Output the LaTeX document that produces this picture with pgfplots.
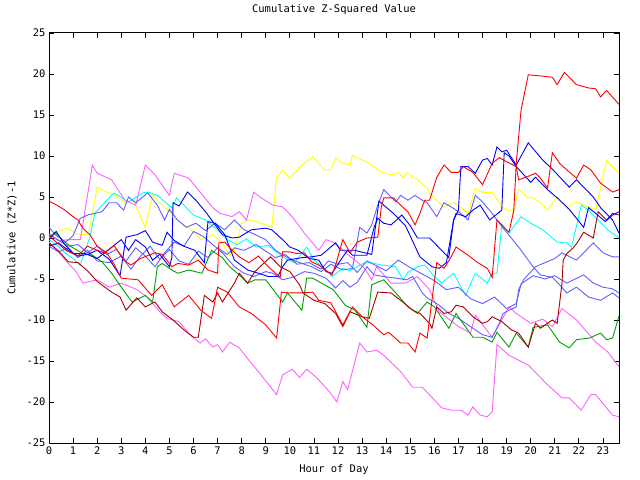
\documentclass[border=0pt]{standalone}
\usepackage{pgfplots}
\pgfplotsset{compat=1.18}
\usepackage{fontspec}
\setmainfont{DejaVu Sans Mono}
\definecolor{gred}{RGB}{255,0,0}
\definecolor{gdred}{RGB}{170,0,0}
\definecolor{gblue}{RGB}{0,0,255}
\definecolor{gslate}{RGB}{96,96,255}
\definecolor{gyel}{RGB}{255,255,0}
\definecolor{gcyan}{RGB}{0,255,255}
\definecolor{gmag}{RGB}{255,96,255}
\definecolor{ggreen}{RGB}{0,160,0}
\begin{document}
\begin{tikzpicture}
\begin{axis}[
  scale only axis, width=570bp, height=410bp,
  xmin=0, xmax=23.667, ymin=-25, ymax=25,
  xtick={0,1,...,23}, ytick={-25,-20,...,25},
  tick align=inside, major tick length=5bp,
  xtick pos=both, ytick pos=both,
  axis line style={line width=1bp},
  every tick/.style={black, line width=0.8bp},
  /pgf/number format/assume math mode=true,
  tick label style={font=\fontsize{10.5}{12}\selectfont},
  label style={font=\fontsize{10.5}{12}\selectfont},
  title style={font=\fontsize{10.5}{12}\selectfont, at={(axis description cs:0.5,1.0415)}, anchor=center},
  title={Cumulative Z-Squared Value},
  xlabel={Hour of Day},
  ylabel={Cumulative (Z*Z)-1},
  xlabel style={at={(axis description cs:0.5,-0.0659)}, anchor=center},
  ylabel style={at={(axis description cs:-0.0649,0.5)}, anchor=center},
  every axis plot/.append style={line width=0.9bp, mark=none},
  clip=true,
]
% yellow
\addplot[gyel] coordinates {(0,0) (0.4,0.8) (0.75,1.2) (1.1,0.6) (1.4,0.4) (1.65,0.5) (2.0,6.2) (2.4,5.6) (2.75,5.2) (3.15,4.3) (3.5,4.6) (4.0,1.3) (4.3,5.2) (4.7,4.0) (5.1,3.0) (5.5,1.8) (5.9,1.0) (6.3,-0.2) (6.8,0.4) (7.2,-0.6) (7.5,-2.1) (7.7,-1.5) (8.0,1.8) (8.3,2.2) (8.6,2.0) (9.0,1.6) (9.25,1.3) (9.45,7.3) (9.7,8.3) (10.0,7.3) (10.5,8.9) (10.95,9.9) (11.45,8.3) (11.7,8.3) (11.9,9.8) (12.2,9.1) (12.5,8.9) (12.6,10.1) (13.0,9.5) (13.2,9.3) (13.8,8.0) (14.2,7.7) (14.5,8.0) (14.7,7.4) (14.9,7.9) (15.3,7.1) (15.7,6.1) (15.8,5.5) (16.1,4.6) (16.4,3.8) (16.8,4.3) (17.0,4.0) (17.4,3.0) (17.7,6.1) (18.0,5.5) (18.4,5.6) (18.8,3.8) (19.0,3.4) (19.3,3.4) (19.5,5.9) (19.9,4.9) (20.1,4.9) (20.4,4.3) (20.7,3.4) (21.1,5.0) (21.5,3.8) (21.9,4.4) (22.4,3.8) (22.7,3.4) (23.15,9.5) (23.667,7.9)};
% cyan
\addplot[gcyan] coordinates {(0,-0.2) (0.3,-0.8) (0.7,-1.9) (1.0,-2.5) (1.3,-3.3) (1.5,-1.5) (1.7,0.1) (1.9,3.0) (2.3,4.3) (2.7,5.5) (3.3,4.4) (3.9,5.5) (4.1,5.6) (4.5,5.2) (5.1,3.7) (5.3,4.9) (5.6,4.0) (6.0,2.8) (6.5,2.2) (7.0,1.0) (7.4,-0.2) (7.8,-0.8) (8.0,-0.5) (8.2,-0.1) (8.6,-1.1) (9.1,-0.9) (9.45,-1.7) (9.8,-2.5) (10.2,-3.0) (10.7,-1.1) (11.0,-2.7) (11.45,-3.7) (11.75,-4.7) (12.2,-3.7) (12.5,-4.0) (12.9,-3.3) (13.2,-2.9) (13.8,-3.3) (14.4,-3.5) (14.7,-5.1) (14.9,-4.2) (15.3,-3.5) (15.6,-3.3) (16.0,-4.7) (16.3,-5.5) (16.8,-4.3) (17.3,-7.0) (17.7,-4.3) (18.2,-5.5) (18.4,-4.3) (18.6,-4.3) (18.8,1.6) (19.1,0.6) (19.6,2.6) (20.0,1.8) (20.5,1.0) (21.1,-0.5) (21.5,-0.6) (21.7,-1.1) (22.1,4.0) (22.4,3.4) (22.8,2.2) (23.2,1.0) (23.667,0.0)};
% magenta 1 (lower)
\addplot[gmag] coordinates {(0,-0.5) (0.25,-1.2) (0.8,-3.1) (1.1,-4.0) (1.41,-5.5) (1.7,-5.3) (2.0,-5.1) (2.5,-6.0) (3.0,-5.5) (3.65,-6.3) (4.07,-7.2) (4.6,-9.0) (4.9,-9.8) (5.4,-10.2) (5.85,-11.8) (6.27,-12.8) (6.5,-12.3) (6.8,-13.3) (7.0,-13.0) (7.2,-13.9) (7.5,-12.7) (7.9,-13.4) (8.3,-14.9) (8.75,-16.5) (9.45,-19.1) (9.7,-16.7) (10.1,-16.0) (10.4,-17.0) (10.7,-16.0) (11.1,-17.0) (11.66,-18.8) (11.95,-20.0) (12.2,-17.5) (12.4,-18.5) (12.9,-12.8) (13.2,-13.9) (13.6,-13.7) (13.9,-14.3) (14.6,-16.3) (15.1,-18.2) (15.5,-18.2) (16.3,-20.7) (16.7,-21.0) (17.1,-21.0) (17.4,-21.6) (17.6,-20.6) (17.9,-21.6) (18.2,-21.8) (18.4,-21.2) (18.6,-13.0) (19.1,-14.3) (19.9,-15.5) (20.7,-17.9) (21.3,-19.5) (21.6,-19.5) (22.1,-21.0) (22.5,-19.1) (22.7,-19.1) (23.4,-21.6) (23.667,-21.8)};
% magenta 2
\addplot[gmag] coordinates {(0,0.4) (0.4,-0.3) (0.9,-0.2) (1.3,-0.2) (1.5,3.4) (1.8,8.9) (2.0,7.9) (2.6,7.1) (3.15,4.6) (3.6,4.0) (4.0,8.9) (4.4,7.7) (5.0,5.2) (5.2,7.9) (5.8,7.3) (6.3,5.5) (6.8,3.7) (7.1,3.0) (7.6,2.6) (7.9,3.2) (8.2,2.2) (8.5,5.6) (8.75,5.0) (9.3,4.0) (9.7,3.8) (10.1,2.6) (10.6,0.6) (11.2,-1.5) (11.5,-0.2) (11.8,-0.5) (12.1,-1.2) (12.4,-2.0) (12.7,-2.7) (13.1,-3.7) (13.4,-5.1) (13.6,-3.5) (14.2,-5.5) (14.8,-5.5) (15.3,-4.7) (15.8,-6.3) (16.2,-9.0) (17.0,-10.8) (17.5,-11.6) (17.7,-9.4) (18.4,-12.1) (19.1,-8.4) (19.4,-9.2) (20.0,-10.4) (20.5,-9.9) (20.9,-10.8) (21.3,-8.6) (21.9,-10.0) (22.7,-12.7) (23.2,-13.9) (23.667,-15.7)};
% slate 1
\addplot[gslate] coordinates {(0,1.3) (0.3,0.3) (0.7,-0.5) (1.0,0.3) (1.3,2.4) (1.6,2.8) (2.2,3.2) (2.5,4.3) (2.8,4.3) (3.1,3.4) (3.3,5.0) (3.6,4.3) (4.1,5.5) (4.5,4.0) (4.8,2.2) (5.0,3.5) (5.3,2.3) (5.7,1.3) (6.1,1.8) (6.5,0.9) (6.9,1.8) (7.3,1.0) (7.7,2.2) (8.1,1.0) (8.5,0.5) (9.0,-0.2) (9.4,-1.5) (9.9,-2.4) (10.3,-2.9) (10.9,-3.5) (11.3,-4.1) (11.7,-3.2) (12.2,-3.9) (12.6,-3.7) (12.9,1.3) (13.2,0.6) (13.4,1.6) (13.65,4.0) (13.9,5.9) (14.1,5.3) (14.4,4.4) (14.6,5.2) (14.9,4.6) (15.2,5.2) (15.5,4.6) (15.7,4.3) (16.1,2.6) (16.4,4.3) (16.8,3.6) (17.1,3.0) (17.4,2.2) (17.7,5.2) (18.0,4.4) (18.4,3.0) (18.8,1.4) (19.5,-1.1) (20.1,-3.5) (20.4,-4.5) (20.9,-4.8) (21.2,-5.7) (21.5,-6.7) (21.9,-6.0) (22.4,-7.2) (22.9,-7.6) (23.4,-6.7) (23.667,-7.3)};
% slate 2
\addplot[gslate] coordinates {(0,0.5) (0.4,-0.3) (0.8,-1.0) (1.2,-0.8) (1.6,-1.8) (2.0,-1.0) (2.4,-2.0) (2.8,-1.4) (3.2,-2.8) (3.6,-1.2) (4.0,-2.2) (4.4,-3.5) (4.8,-1.8) (5.2,-0.5) (5.6,-1.0) (6.0,0.8) (6.4,0.2) (6.8,-0.8) (7.2,-1.8) (7.7,-3.5) (8.1,-4.3) (8.5,-4.7) (9.0,-4.1) (9.3,-4.3) (9.7,-5.1) (10.2,-4.7) (10.6,-4.1) (11.0,-4.3) (11.5,-4.9) (11.9,-6.1) (12.2,-5.2) (12.5,-6.0) (12.8,-5.4) (13.2,-3.5) (13.5,-4.5) (13.9,-4.7) (14.4,-4.9) (14.85,-5.1) (15.1,-4.7) (15.5,-6.7) (15.7,-7.3) (16.2,-8.2) (16.6,-9.2) (17.0,-9.8) (17.5,-10.8) (18.0,-11.8) (18.4,-12.1) (18.7,-10.4) (18.85,-9.2) (19.1,-8.8) (19.4,-8.4) (19.5,-6.3) (19.7,-5.1) (20.2,-3.5) (20.6,-3.0) (21.0,-2.5) (21.3,-1.8) (21.9,-2.7) (22.6,-0.6) (23.0,-1.8) (23.4,-2.3) (23.667,-2.3)};
% slate 3
\addplot[gslate] coordinates {(0,-1.0) (0.4,-1.7) (0.8,-1.2) (1.2,-2.4) (1.6,-1.5) (2.0,-2.8) (2.5,-3.0) (3.0,-2.2) (3.4,-3.8) (3.8,-2.2) (4.2,-1.0) (4.6,-2.6) (5.0,-1.4) (5.4,-2.8) (5.8,-3.2) (6.2,-1.6) (6.6,-2.4) (7.0,-1.2) (7.4,-2.0) (7.7,-1.2) (8.1,-1.5) (8.6,-0.8) (9.0,-1.6) (9.4,-2.4) (9.8,-2.0) (10.3,-3.2) (10.8,-3.0) (11.3,-3.8) (11.6,-2.8) (12.0,-3.2) (12.4,-3.0) (12.8,-4.2) (13.2,-2.8) (13.6,-3.4) (14.0,-4.0) (14.5,-2.7) (15.0,-3.6) (15.5,-4.4) (16.0,-5.2) (16.5,-6.3) (17.0,-6.0) (17.5,-7.4) (18.0,-8.0) (18.5,-7.2) (19.0,-8.6) (19.4,-8.0) (19.6,-5.6) (20.1,-4.6) (20.6,-5.0) (21.0,-4.6) (21.5,-5.5) (22.2,-4.5) (22.6,-5.5) (23.0,-6.0) (23.4,-6.2) (23.667,-6.7)};
% green
\addplot[ggreen] coordinates {(0,0.1) (0.25,0.7) (0.65,-0.5) (1.0,-1.2) (1.4,-1.9) (1.8,-2.1) (2.2,-2.9) (2.6,-4.3) (3.0,-6.0) (3.45,-7.8) (3.8,-7.3) (4.0,-7.0) (4.3,-7.8) (4.5,-3.5) (4.7,-3.1) (5.1,-3.9) (5.35,-4.3) (5.8,-3.9) (6.35,-4.3) (6.75,-1.5) (7.2,-2.4) (7.5,-3.5) (7.9,-4.5) (8.25,-5.5) (8.55,-5.1) (9.0,-5.1) (9.7,-7.8) (9.9,-6.7) (10.5,-8.8) (10.7,-4.9) (10.95,-4.9) (11.8,-6.3) (12.3,-8.2) (12.7,-8.8) (13.2,-10.9) (13.4,-5.7) (13.9,-5.1) (14.4,-6.7) (14.9,-8.4) (15.3,-9.2) (15.7,-7.8) (16.0,-8.4) (16.6,-11.0) (16.9,-9.2) (17.6,-12.1) (18.0,-12.1) (18.4,-12.7) (18.6,-11.5) (19.1,-13.3) (19.4,-11.6) (19.9,-13.3) (20.1,-10.9) (20.7,-10.6) (21.2,-12.7) (21.6,-13.4) (21.9,-12.4) (22.45,-12.2) (22.9,-11.6) (23.15,-12.4) (23.4,-12.2) (23.667,-9.5)};
% dark red
\addplot[gdred] coordinates {(0,-0.6) (0.4,-1.6) (0.8,-2.9) (1.2,-3.0) (1.6,-4.0) (2.0,-5.3) (2.6,-6.6) (2.95,-7.2) (3.2,-8.8) (3.65,-7.3) (4.0,-8.4) (4.4,-7.8) (4.7,-9.0) (5.15,-10.0) (5.6,-11.2) (6.0,-12.1) (6.2,-12.1) (6.45,-7.0) (6.8,-7.8) (7.0,-6.7) (7.2,-7.8) (7.7,-5.5) (7.9,-4.3) (8.25,-5.5) (8.55,-4.1) (9.2,-2.3) (9.6,-3.5) (10.0,-4.1) (10.4,-5.7) (10.55,-6.7) (11.0,-7.6) (11.45,-8.0) (11.9,-9.2) (12.2,-10.8) (12.5,-9.0) (13.0,-9.6) (13.3,-9.8) (13.65,-6.6) (14.2,-6.7) (14.6,-7.6) (15.1,-8.8) (15.4,-9.2) (15.8,-10.4) (15.9,-11.0) (16.1,-8.4) (16.4,-9.2) (16.7,-9.0) (16.9,-8.2) (17.2,-8.4) (17.6,-9.6) (18.0,-10.4) (18.2,-10.2) (18.4,-9.6) (18.8,-10.2) (19.2,-11.2) (19.5,-11.6) (19.9,-13.3) (20.2,-10.4) (20.4,-11.0) (20.9,-10.0) (21.1,-10.4) (21.3,-5.5) (21.35,-2.7) (21.5,-1.9) (21.8,-1.1) (21.95,-0.5) (22.2,0.7) (22.6,0.0) (22.8,3.2) (23.15,2.2) (23.4,3.0) (23.667,2.8)};
% blue 1
\addplot[gblue] coordinates {(0,-0.2) (0.3,0.8) (0.6,-0.6) (1.0,-1.9) (1.5,-1.9) (2.0,-2.5) (2.45,-1.5) (3.0,-0.2) (3.3,-1.5) (3.6,-0.2) (4.0,-1.1) (4.3,-2.7) (4.6,-2.0) (5.0,-3.5) (5.1,-2.4) (5.15,4.3) (5.4,3.9) (5.75,5.6) (6.1,4.6) (6.5,3.2) (6.8,2.0) (7.2,0.4) (7.6,0.0) (7.9,0.1) (8.4,1.0) (9.0,1.2) (9.25,1.0) (9.7,-0.2) (10.0,-1.1) (10.35,-1.5) (10.8,-2.5) (11.2,-2.7) (11.5,-4.1) (11.75,-4.3) (12.2,-2.3) (12.4,-1.5) (12.6,-2.1) (13.2,-2.1) (13.5,1.3) (13.65,2.4) (13.9,1.8) (14.2,1.6) (14.65,2.8) (15.0,1.5) (15.3,0.0) (15.8,0.0) (16.0,-0.6) (16.6,-2.4) (16.8,2.2) (17.0,3.4) (17.1,8.7) (17.4,8.7) (17.7,7.9) (18.0,9.5) (18.2,9.7) (18.4,8.9) (18.6,11.1) (18.8,10.5) (19.0,10.7) (19.4,8.9) (19.9,11.6) (20.5,9.5) (20.9,8.4) (21.6,6.2) (21.9,7.1) (22.6,5.0) (22.9,3.7) (23.4,2.2) (23.667,0.6)};
% blue 2
\addplot[gblue] coordinates {(0,-1.0) (0.4,-0.6) (0.8,-1.5) (1.2,-2.2) (1.6,-2.0) (2.0,-1.5) (2.5,-2.6) (2.95,-4.6) (3.2,0.1) (3.65,0.4) (4.0,0.9) (4.3,-0.5) (4.7,-0.9) (4.9,0.7) (5.2,-0.3) (5.6,-1.0) (6.05,-1.5) (6.45,-3.0) (6.6,2.0) (6.9,1.8) (7.3,0.4) (7.7,-2.7) (8.25,-3.9) (8.7,-4.3) (9.1,-4.7) (9.5,-4.7) (9.7,-3.5) (9.9,-2.7) (10.5,-2.4) (10.9,-2.3) (11.3,-2.1) (11.9,-0.6) (12.1,-1.5) (12.7,-1.5) (13.1,-1.8) (13.4,-2.0) (13.7,4.5) (13.9,4.0) (14.3,3.0) (14.8,1.5) (15.4,-2.3) (15.9,-3.5) (16.2,-3.7) (16.5,-3.0) (16.8,2.2) (16.9,3.0) (17.3,2.6) (17.6,3.4) (17.9,4.0) (18.3,2.2) (18.8,3.4) (18.9,10.4) (19.1,10.0) (19.4,8.7) (20.0,6.8) (20.2,7.4) (20.7,5.9) (21.1,4.9) (21.6,3.5) (22.2,1.3) (22.4,3.7) (22.7,3.0) (23.1,2.0) (23.4,2.8) (23.667,3.2)};
% red 2
\addplot[gred] coordinates {(0,0.3) (0.3,-0.5) (0.7,-1.5) (1.2,-2.2) (1.6,-1.0) (2.0,-1.5) (2.3,-1.8) (2.7,-0.9) (3.1,-2.7) (3.4,-3.3) (3.8,-2.5) (4.4,-1.8) (4.7,-2.0) (5.1,-3.5) (5.35,-3.1) (5.8,-3.3) (6.2,-2.7) (6.6,-3.9) (7.0,-4.3) (7.05,-0.6) (7.3,-0.5) (7.6,-1.5) (7.9,-2.3) (8.3,-3.0) (8.7,-2.2) (9.1,-3.5) (9.6,-4.8) (9.7,-1.7) (10.0,-1.7) (10.3,-1.9) (10.6,-1.8) (10.9,-2.9) (11.2,-3.3) (11.75,-4.5) (11.9,-3.3) (12.2,-0.2) (12.5,-1.8) (12.8,-0.5) (13.2,0) (13.65,0.1) (13.8,3.8) (13.9,4.9) (14.3,4.9) (14.6,4.0) (14.9,3.2) (15.2,1.6) (15.4,3.0) (15.6,4.6) (15.8,4.6) (16.1,7.4) (16.4,8.9) (16.7,8.0) (17.0,8.0) (17.2,8.7) (17.6,8.0) (18.0,6.5) (18.4,9.1) (18.7,9.8) (19.0,9.3) (19.4,8.7) (19.5,7.1) (19.8,7.4) (20.2,7.9) (20.4,7.3) (20.7,6.1) (20.9,10.4) (21.2,9.1) (21.5,8.3) (21.9,7.3) (22.2,8.9) (22.5,8.3) (22.9,6.7) (23.4,5.6) (23.667,5.9)};
% red 1
\addplot[gred] coordinates {(0,4.5) (0.33,4.0) (0.66,3.4) (1.0,2.6) (1.2,2.2) (1.4,1.2) (1.7,0.4) (2.0,-1.0) (2.4,-1.8) (2.7,-3.2) (3.0,-4.9) (3.35,-5.0) (3.7,-5.1) (4.26,-7.0) (4.7,-5.7) (5.2,-8.4) (5.8,-7.0) (6.3,-8.8) (6.75,-9.8) (7.0,-6.0) (7.4,-6.6) (7.9,-8.4) (8.4,-9.2) (9.0,-10.6) (9.45,-12.2) (9.65,-6.6) (10.0,-6.7) (10.5,-6.7) (10.95,-6.6) (11.2,-7.6) (11.7,-7.9) (12.2,-10.6) (12.6,-8.4) (13.0,-9.6) (13.45,-10.6) (13.9,-11.8) (14.1,-11.5) (14.6,-12.8) (14.9,-12.8) (15.2,-13.9) (15.4,-11.6) (15.7,-12.2) (16.1,-3.0) (16.4,-3.7) (16.7,-2.3) (16.9,-1.1) (17.4,-2.1) (17.8,-3.0) (18.2,-3.7) (18.4,-4.8) (18.6,2.2) (19.1,0.7) (19.3,3.4) (19.4,9.1) (19.6,15.6) (19.9,19.9) (20.3,19.8) (20.9,19.6) (21.1,18.7) (21.4,20.2) (21.9,18.7) (22.4,18.3) (22.7,18.2) (22.9,17.2) (23.15,18.0) (23.667,16.3)};
\end{axis}
\path[use as bounding box] (-49bp,-37bp) rectangle (591bp,443bp);
\end{tikzpicture}
\end{document}
